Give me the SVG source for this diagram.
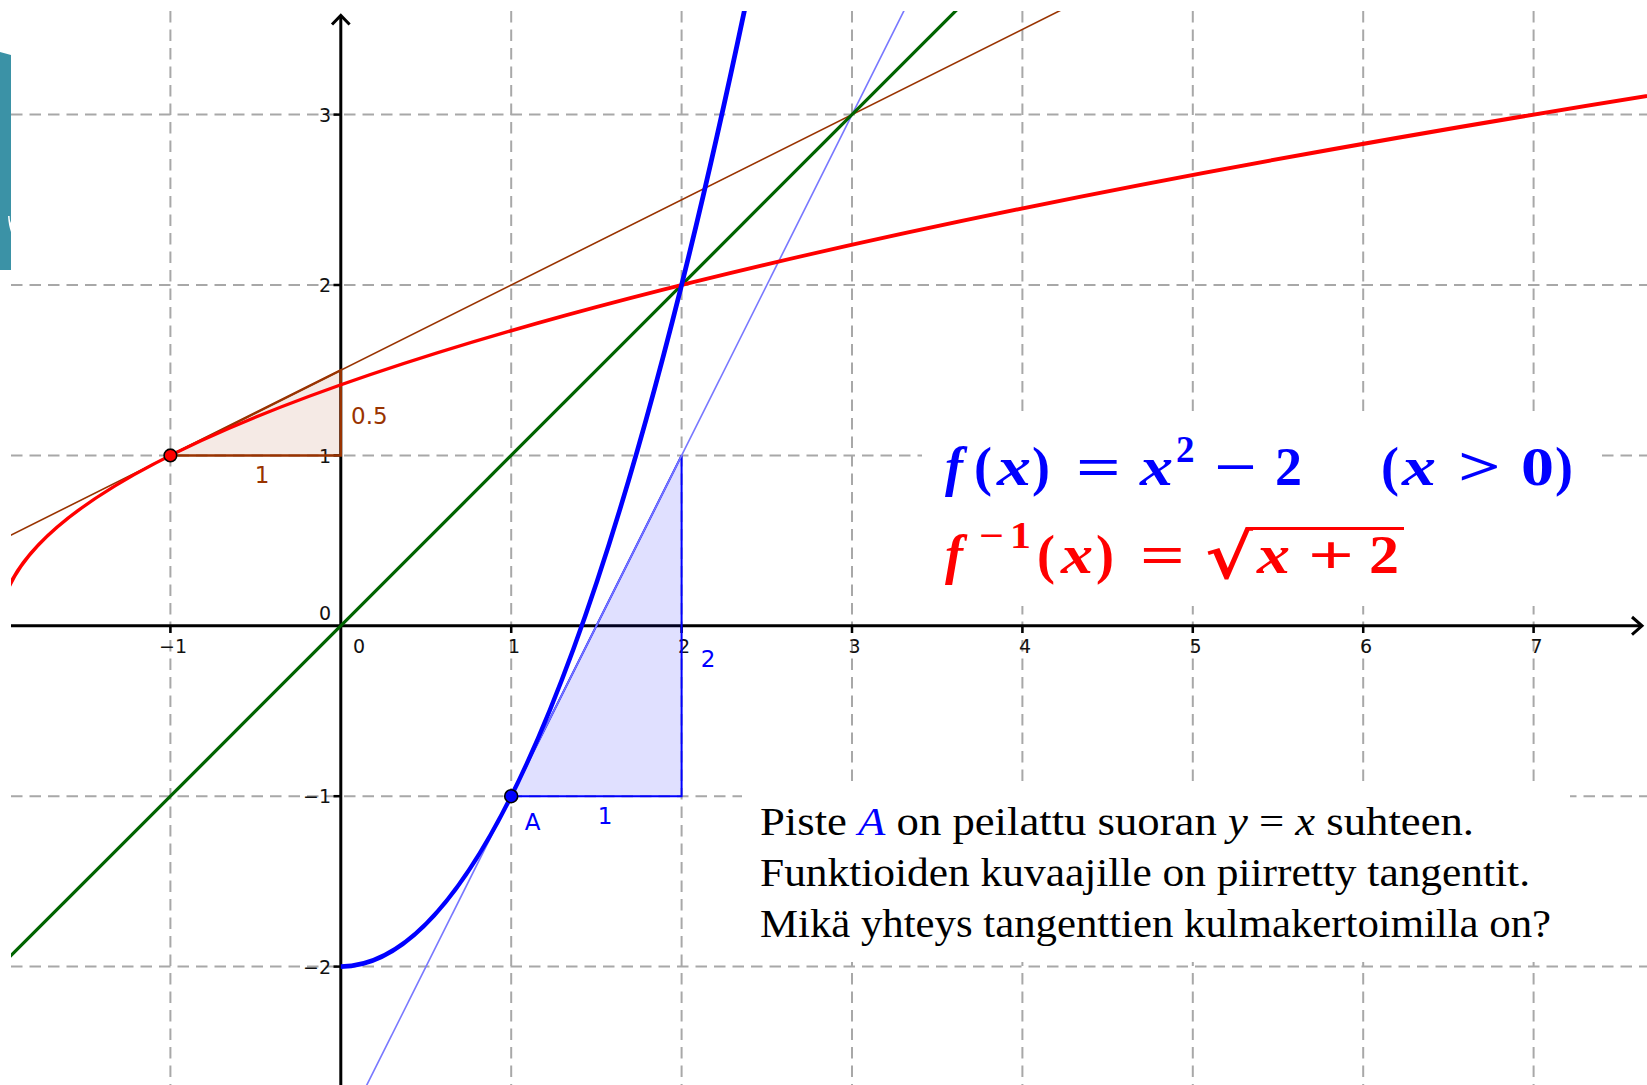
<svg xmlns="http://www.w3.org/2000/svg" width="1647" height="1085" viewBox="0 0 1647 1085">
<defs>
<style>
.grid{stroke:#a8a8a8;stroke-width:2;stroke-dasharray:11.5 7;fill:none}
.axis{stroke:#000;stroke-width:3;fill:none}
.tick{stroke:#000;stroke-width:2.5}
.tl{font-family:"DejaVu Sans","Noto Sans",sans-serif;font-size:19px;fill:#111}
.tlr{font-family:"DejaVu Sans","Noto Sans",sans-serif;font-size:19px;fill:#111;text-anchor:end}
.lbl{font-family:"DejaVu Sans","Noto Sans",sans-serif;font-size:23px}
.math{font-family:"Liberation Serif","DejaVu Serif",serif;font-weight:bold;font-size:54px}
.sup{font-size:37px}
.it{font-style:italic}
.txt{font-family:"Liberation Serif","DejaVu Serif",serif;font-size:40px;fill:#000}
</style>
<clipPath id="plot"><rect x="11" y="11" width="1636" height="1074"/></clipPath>
</defs>
<rect width="1647" height="1085" fill="#fff"/>

<g id="corner-shape">
<path d="M0,52 L11,55 L11,270 L0,270 Z" fill="#3b92a6"/>
<path d="M8,216 C8.5,223 9.5,228 11,232 L11,223 C10,221 9.6,219 9.6,216 Z" fill="#fff"/>
</g>

<g id="grid" clip-path="url(#plot)">
<line class="grid" x1="170.4" y1="11" x2="170.4" y2="1085"/>
<line class="grid" x1="511.2" y1="11" x2="511.2" y2="1085"/>
<line class="grid" x1="681.6" y1="11" x2="681.6" y2="1085"/>
<line class="grid" x1="852" y1="11" x2="852" y2="1085"/>
<line class="grid" x1="1022.4" y1="11" x2="1022.4" y2="1085"/>
<line class="grid" x1="1192.8" y1="11" x2="1192.8" y2="1085"/>
<line class="grid" x1="1363.2" y1="11" x2="1363.2" y2="1085"/>
<line class="grid" x1="1533.6" y1="11" x2="1533.6" y2="1085"/>
<line class="grid" x1="11" y1="114.6" x2="1647" y2="114.6"/>
<line class="grid" x1="11" y1="285" x2="1647" y2="285"/>
<line class="grid" x1="11" y1="455.4" x2="1647" y2="455.4"/>
<line class="grid" x1="11" y1="796.2" x2="1647" y2="796.2"/>
<line class="grid" x1="11" y1="966.6" x2="1647" y2="966.6"/>
</g>

<g id="text-backgrounds" fill="#fff">
<rect x="922" y="413" width="675" height="193"/>
<rect x="742" y="786" width="828" height="176"/>
</g>

<g id="axes">
<line class="axis" x1="11" y1="625.8" x2="1642" y2="625.8"/>
<polyline class="axis" points="1632,617 1642,625.8 1632,634.6"/>
<line class="axis" x1="340.8" y1="1085" x2="340.8" y2="16"/>
<polyline class="axis" points="332,24.5 340.8,15.5 349.6,24.5"/>
<g id="ticks">
<line class="tick" x1="170.4" y1="625.8" x2="170.4" y2="633"/>
<line class="tick" x1="511.2" y1="625.8" x2="511.2" y2="633"/>
<line class="tick" x1="681.6" y1="625.8" x2="681.6" y2="633"/>
<line class="tick" x1="852" y1="625.8" x2="852" y2="633"/>
<line class="tick" x1="1022.4" y1="625.8" x2="1022.4" y2="633"/>
<line class="tick" x1="1192.8" y1="625.8" x2="1192.8" y2="633"/>
<line class="tick" x1="1363.2" y1="625.8" x2="1363.2" y2="633"/>
<line class="tick" x1="1533.6" y1="625.8" x2="1533.6" y2="633"/>
<line class="tick" x1="333.5" y1="114.6" x2="340.8" y2="114.6"/>
<line class="tick" x1="333.5" y1="285" x2="340.8" y2="285"/>
<line class="tick" x1="333.5" y1="455.4" x2="340.8" y2="455.4"/>
<line class="tick" x1="333.5" y1="796.2" x2="340.8" y2="796.2"/>
<line class="tick" x1="333.5" y1="966.6" x2="340.8" y2="966.6"/>
</g>
<g id="tick-labels">
<text class="tl" x="173" y="653" text-anchor="middle">−1</text>
<text class="tl" x="359" y="653" text-anchor="middle">0</text>
<text class="tl" x="514" y="653" text-anchor="middle">1</text>
<text class="tl" x="684" y="653" text-anchor="middle">2</text>
<text class="tl" x="854.5" y="653" text-anchor="middle">3</text>
<text class="tl" x="1025" y="653" text-anchor="middle">4</text>
<text class="tl" x="1195.5" y="653" text-anchor="middle">5</text>
<text class="tl" x="1366" y="653" text-anchor="middle">6</text>
<text class="tl" x="1536.5" y="653" text-anchor="middle">7</text>
<text class="tlr" x="331" y="121.5">3</text>
<text class="tlr" x="331" y="292">2</text>
<text class="tlr" x="331" y="462.5">1</text>
<text class="tlr" x="331" y="620">0</text>
<text class="tlr" x="331" y="803">−1</text>
<text class="tlr" x="331" y="973.5">−2</text>
</g>
</g>

<g id="triangle-brown">
<polygon points="170.4,455.4 340.8,455.4 340.8,370.2" fill="#993300" fill-opacity="0.1" stroke="#993300" stroke-width="2.5"/>
<text class="lbl" x="262" y="483" fill="#993300" text-anchor="middle">1</text>
<text class="lbl" x="351" y="423.5" fill="#993300">0.5</text>
</g>

<g id="triangle-blue">
<polygon points="511.2,796.2 681.6,796.2 681.6,455.4" fill="#0000ff" fill-opacity="0.12" stroke="#0000ff" stroke-width="2"/>
<text class="lbl" x="605" y="824" fill="#0000ff" text-anchor="middle">1</text>
<text class="lbl" x="708" y="667" fill="#0000ff" text-anchor="middle">2</text>
</g>

<g id="connectors" clip-path="url(#plot)" fill="none">
<line id="tangent-brown" x1="0" y1="540.6" x2="1107.6" y2="-13.2" stroke="#993300" stroke-width="1.6"/>
<line id="tangent-blue" x1="340.8" y1="1137" x2="920.2" y2="-21.7" stroke="#7878ff" stroke-width="1.6"/>
<line id="line-y-x" x1="0" y1="966.6" x2="988.3" y2="-21.7" stroke="#006400" stroke-width="3.2"/>
<path id="curve-finv" d="M0,625.8 Q0,353.16 1744.9,80.52" stroke="#ff0000" stroke-width="4"/>
<path id="curve-f" d="M340.8,966.6 Q545.28,966.6 749.76,-14.9" stroke="#0000ff" stroke-width="4.8"/>
</g>

<g id="point-red">
<circle cx="170.4" cy="455.4" r="6.3" fill="#ff0000" stroke="#000" stroke-width="1.6"/>
</g>
<g id="point-A">
<circle cx="511.2" cy="796.2" r="6.5" fill="#0000ff" stroke="#000" stroke-width="1.6"/>
<text class="lbl" x="532.5" y="830" fill="#0000ff" text-anchor="middle">A</text>
</g>

<g id="formula-f" class="math" fill="#0000ff">
<text class="it" x="945" y="485">f</text>
<text x="974" y="485">(</text>
<text class="it" x="997" y="485" textLength="34" lengthAdjust="spacingAndGlyphs">x</text>
<text x="1032" y="485">)</text>
<text x="1076" y="485" textLength="45" lengthAdjust="spacingAndGlyphs">=</text>
<text class="it" x="1140" y="485" textLength="33" lengthAdjust="spacingAndGlyphs">x</text>
<text class="sup" x="1176" y="462">2</text>
<text x="1214" y="485" textLength="43" lengthAdjust="spacingAndGlyphs">−</text>
<text x="1275" y="485">2</text>
<text x="1381" y="485">(</text>
<text class="it" x="1402" y="485" textLength="34" lengthAdjust="spacingAndGlyphs">x</text>
<text x="1458" y="485" textLength="43" lengthAdjust="spacingAndGlyphs">&gt;</text>
<text x="1521" y="485" textLength="33" lengthAdjust="spacingAndGlyphs">0</text>
<text x="1555" y="485">)</text>
</g>

<g id="formula-finv" class="math" fill="#ff0000">
<text class="it" x="945" y="573">f</text>
<text class="sup" x="979" y="548" textLength="25" lengthAdjust="spacingAndGlyphs">−</text>
<text class="sup" x="1010" y="548" textLength="21" lengthAdjust="spacingAndGlyphs">1</text>
<text x="1037" y="573">(</text>
<text class="it" x="1061" y="573" textLength="32" lengthAdjust="spacingAndGlyphs">x</text>
<text x="1096" y="573">)</text>
<text x="1140" y="573" textLength="45" lengthAdjust="spacingAndGlyphs">=</text>
<text x="1205" y="578" font-family="DejaVu Serif" font-size="62" textLength="48" lengthAdjust="spacingAndGlyphs">√</text>
<line x1="1251" y1="528.5" x2="1404" y2="528.5" stroke="#ff0000" stroke-width="3.2"/>
<text class="it" x="1257" y="573" textLength="33" lengthAdjust="spacingAndGlyphs">x</text>
<text x="1308" y="573" textLength="46" lengthAdjust="spacingAndGlyphs">+</text>
<text x="1369" y="573" textLength="30" lengthAdjust="spacingAndGlyphs">2</text>
</g>

<g id="question-text" class="txt">
<text x="760" y="835" textLength="714" lengthAdjust="spacingAndGlyphs">Piste <tspan class="it" fill="#0000ff">A</tspan> on peilattu suoran <tspan class="it">y</tspan> = <tspan class="it">x</tspan> suhteen.</text>
<text x="760" y="886" textLength="770" lengthAdjust="spacingAndGlyphs">Funktioiden kuvaajille on piirretty tangentit.</text>
<text x="760" y="937" textLength="791" lengthAdjust="spacingAndGlyphs">Mikä yhteys tangenttien kulmakertoimilla on?</text>
</g>
</svg>
